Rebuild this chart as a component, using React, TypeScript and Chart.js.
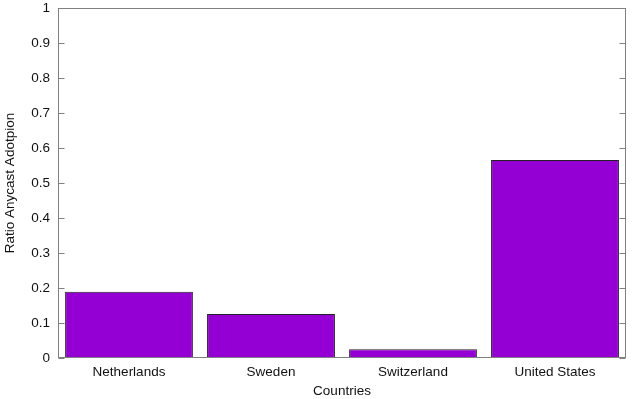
import React, { useEffect, useRef } from "react";
import { Chart, registerables } from "chart.js";

Chart.register(...registerables);

const categories = ["Netherlands", "Sweden", "Switzerland", "United States"];
const ratioValues = [0.189, 0.126, 0.025, 0.566];
const yTickValues = [0, 0.1, 0.2, 0.3, 0.4, 0.5, 0.6, 0.7, 0.8, 0.9, 1];

const FONT = "'Liberation Sans', Arial, Helvetica, sans-serif";
const FS = 13.5;

const framePlugin = {
  id: "gnuFrame",
  afterDraw(chart: any) {
    const { ctx, chartArea } = chart;
    const y = chart.scales.y;
    const l = Math.round(chartArea.left) + 0.5;
    const r = Math.round(chartArea.right) - 0.5;
    const t = Math.round(chartArea.top) + 0.5;
    const b = Math.round(chartArea.bottom) - 0.5;
    ctx.save();
    ctx.strokeStyle = "#808080";
    ctx.lineWidth = 1;
    ctx.beginPath();
    for (const v of yTickValues) {
      const py = Math.round(y.getPixelForValue(v)) + 0.5;
      ctx.moveTo(l, py);
      ctx.lineTo(l + 6, py);
      ctx.moveTo(r, py);
      ctx.lineTo(r - 6, py);
    }
    ctx.stroke();
    ctx.strokeRect(l, t, r - l, b - t);
    ctx.restore();
  },
};

export default function App() {
  const ref = useRef<HTMLCanvasElement>(null);
  useEffect(() => {
    if (!ref.current) return;
    const chart = new Chart(ref.current, {
      type: "bar",
      data: {
        labels: categories,
        datasets: [
          {
            data: ratioValues,
            backgroundColor: "#9400D3",
            borderColor: "#222222",
            borderWidth: 1,
            barPercentage: 0.9,
            categoryPercentage: 1,
          },
        ],
      },
      options: {
        animation: false,
        responsive: false,
        maintainAspectRatio: false,
        layout: { padding: { top: 8, right: 14, bottom: 0, left: 0 } },
        plugins: { legend: { display: false }, tooltip: { enabled: false } },
        scales: {
          x: {
            grid: { display: false, drawTicks: false },
            border: { display: false },
            ticks: { padding: 6, color: "#111", font: { family: FONT, size: FS } },
            title: {
              display: true,
              text: "Countries",
              color: "#111",
              font: { family: FONT, size: FS },
              padding: { top: 0, bottom: 0 },
            },
            afterFit(scale: any) {
              scale.height = 41;
              scale.paddingLeft = 0;
              scale.paddingRight = 0;
            },
          },
          y: {
            min: 0,
            max: 1,
            grid: { display: false, drawTicks: false },
            border: { display: false },
            ticks: {
              stepSize: 0.1,
              padding: 8,
              color: "#111",
              font: { family: FONT, size: FS },
              callback: (v: any) => String(Math.round(Number(v) * 10) / 10),
            },
            title: {
              display: true,
              text: "Ratio Anycast Adotpion",
              color: "#111",
              font: { family: FONT, size: FS },
              padding: { top: 2, bottom: 0 },
            },
            afterFit(scale: any) {
              scale.width = 58;
              scale.paddingTop = 0;
              scale.paddingBottom = 0;
            },
          },
        },
      },
      plugins: [framePlugin],
    });
    return () => chart.destroy();
  }, []);
  return (
    <div style={{ position: "absolute", left: 0, top: 0, width: 640, height: 399, background: "#fff" }}>
      <canvas ref={ref} width={640} height={399} />
    </div>
  );
}
